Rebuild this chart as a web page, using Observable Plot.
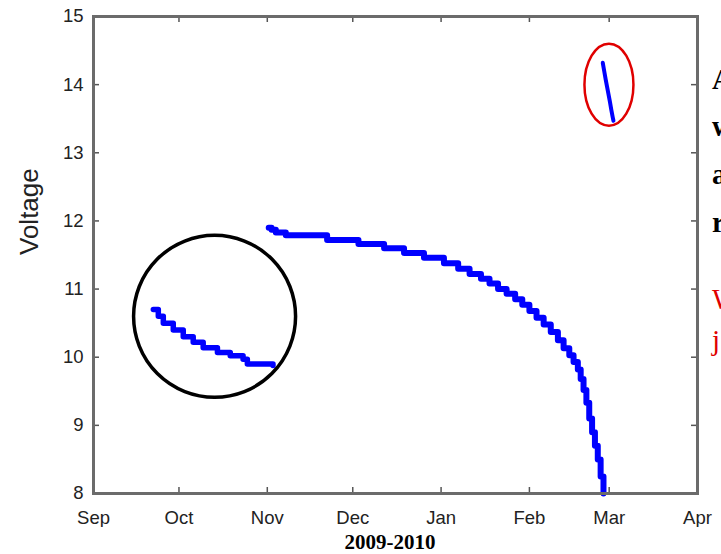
<!DOCTYPE html>
<html><head><meta charset="utf-8">
<script src="https://cdn.jsdelivr.net/npm/d3@7"></script>
<script src="https://cdn.jsdelivr.net/npm/@observablehq/plot@0.6"></script>
<style>
html,body{margin:0;padding:0;background:#fff;overflow:hidden;width:721px;height:554px;}
#wrap{position:relative;width:721px;height:554px;overflow:hidden;}
#chart{position:absolute;left:0;top:0;}
.cap{position:absolute;left:390px;top:532px;transform:translateX(-50%);font:bold 21px/21px "Liberation Serif","Times New Roman",serif;color:#000;white-space:nowrap;}
.frag{position:absolute;left:712px;font:bold 29px/29px "Liberation Serif","Times New Roman",serif;color:#000;white-space:nowrap;}
.frag.red{color:#e00000;font-weight:normal;}
</style></head>
<body><div id="wrap"><div id="chart"></div>
<div class="cap">2009-2010</div>
<div class="frag" style="top:65px">A</div>
<div class="frag" style="top:112px">w</div>
<div class="frag" style="top:160px">a</div>
<div class="frag" style="top:208px">r</div>
<div class="frag red" style="top:285px">W</div>
<div class="frag red" style="top:326px">j</div>
</div>
<script>
const parse = d3.utcParse("%Y-%m-%d %H");

// axis ticks
const monthLabels = ["Sep","Oct","Nov","Dec","Jan","Feb","Mar","Apr"];
const monthTicks = ["2009-09-01 00","2009-10-01 00","2009-11-01 00","2009-12-01 00","2010-01-01 00","2010-02-01 00","2010-03-01 00","2010-04-01 00"];
const voltTicks = [8,9,10,11,12,13,14,15];

// segment 1 (Sep-Nov, circled)
const seg1Dates = ["2009-09-22 00","2009-09-23 18","2009-09-25 12","2009-09-29 00","2009-10-02 12","2009-10-06 00","2009-10-09 12","2009-10-14 12","2009-10-19 00","2009-10-23 12","2009-10-25 00","2009-11-03 00"];
const seg1Volts = [10.70,10.60,10.50,10.40,10.30,10.22,10.14,10.07,10.02,9.97,9.90,9.88];

// segment 2 (Nov-Feb)
const seg2Dates = ["2009-11-01 12","2009-11-02 12","2009-11-04 00","2009-11-07 12","2009-11-22 00","2009-12-03 00","2009-12-12 00","2009-12-19 00","2009-12-26 00","2010-01-02 00","2010-01-07 00","2010-01-11 00","2010-01-15 00","2010-01-18 00","2010-01-21 00","2010-01-24 00","2010-01-27 00","2010-01-29 12","2010-02-01 00","2010-02-03 12","2010-02-06 00","2010-02-08 12","2010-02-11 00","2010-02-13 00","2010-02-15 00","2010-02-16 12","2010-02-18 00","2010-02-19 00","2010-02-20 00","2010-02-21 00","2010-02-22 00","2010-02-23 00","2010-02-24 00","2010-02-25 00","2010-02-26 00","2010-02-27 00"];
const seg2Volts = [11.90,11.87,11.83,11.79,11.72,11.66,11.60,11.53,11.46,11.38,11.30,11.22,11.15,11.08,11.00,10.93,10.85,10.77,10.68,10.58,10.48,10.37,10.25,10.13,10.03,9.93,9.82,9.68,9.52,9.33,9.10,8.90,8.70,8.50,8.25,8.00];

// segment 3 (after recharge, red ellipse)
const seg3Dates = ["2010-02-26 18","2010-02-27 06","2010-02-27 18","2010-02-28 06","2010-02-28 18","2010-03-01 06","2010-03-01 18","2010-03-02 06","2010-03-02 12"];
const seg3Volts = [14.32,14.20,14.08,13.97,13.86,13.75,13.63,13.52,13.47];

const rows = (dates, volts) => dates.map((d, i) => ({date: parse(d), v: volts[i]}));
const seg1 = rows(seg1Dates, seg1Volts);
const seg2 = rows(seg2Dates, seg2Volts);
const seg3 = rows(seg3Dates, seg3Volts);
const monthDates = monthTicks.map(parse);
const labelOf = new Map(monthDates.map((d, i) => [+d, monthLabels[i]]));

// annotation shapes
const circleAt = [{date: parse("2009-10-13 12"), v: 10.6}];
const ellipseAt = [{date: parse("2010-02-28 22"), v: 14.0}];
const ellipseSymbol = {draw(ctx) {
  const rx = 24.5, ry = 41, k = 0.5523;
  ctx.moveTo(rx, 0);
  ctx.bezierCurveTo(rx, ry * k, rx * k, ry, 0, ry);
  ctx.bezierCurveTo(-rx * k, ry, -rx, ry * k, -rx, 0);
  ctx.bezierCurveTo(-rx, -ry * k, -rx * k, -ry, 0, -ry);
  ctx.bezierCurveTo(rx * k, -ry, rx, -ry * k, rx, 0);
  ctx.closePath();
}};

const W = 721, H = 527, mL = 93, mR = 24, mT = 16, mB = 34;
const fw = W - mL - mR, fh = H - mT - mB, tl = 6;
const tickColor = "#555";
const chart = Plot.plot({
  width: W, height: H,
  marginLeft: mL, marginRight: mR, marginTop: mT, marginBottom: mB,
  style: {fontFamily: "'Liberation Sans', Arial, sans-serif", fontSize: "18px", color: "#222", background: "white"},
  x: {type: "utc", domain: [monthDates[0], monthDates[monthDates.length - 1]]},
  y: {domain: [8, 15]},
  marks: [
    Plot.axisY(voltTicks, {anchor: "left", tickSize: 0, tickPadding: 10, fontSize: 18.5, fill: "#222", tickFormat: d => String(d), label: null}),
    Plot.axisX(monthDates, {anchor: "bottom", tickSize: 0, tickPadding: 17, fontSize: 18.5, fill: "#222", tickFormat: d => labelOf.get(+d), label: null}),
    // inward ticks on all four sides
    Plot.tickX(monthDates, {x: d => d, insetTop: fh - tl, stroke: tickColor, strokeWidth: 1.5}),
    Plot.tickX(monthDates, {x: d => d, insetBottom: fh - tl, stroke: tickColor, strokeWidth: 1.5}),
    Plot.tickY(voltTicks, {y: d => d, insetRight: fw - tl, stroke: tickColor, strokeWidth: 1.5}),
    Plot.tickY(voltTicks, {y: d => d, insetLeft: fw - tl, stroke: tickColor, strokeWidth: 1.5}),
    Plot.text(["Voltage"], {frameAnchor: "left", dx: -64, rotate: -90, fontSize: 26, fill: "#222", text: d => d}),
    Plot.line(seg1, {x: "date", y: "v", stroke: "#0000ff", strokeWidth: 5.5, curve: "step-after"}),
    Plot.line(seg2, {x: "date", y: "v", stroke: "#0000ff", strokeWidth: 6, curve: "step-after"}),
    Plot.line(seg3, {x: "date", y: "v", stroke: "#0000ff", strokeWidth: 4}),
    Plot.dot(circleAt, {x: "date", y: "v", r: 81, fill: "none", stroke: "#000", strokeWidth: 3.5}),
    Plot.dot(ellipseAt, {x: "date", y: "v", symbol: ellipseSymbol, r: 10, fill: "none", stroke: "#e00000", strokeWidth: 2.5}),
    Plot.frame({stroke: "#6b6b6b", strokeWidth: 3})
  ]
});
document.getElementById("chart").appendChild(chart);
</script>
</body></html>
